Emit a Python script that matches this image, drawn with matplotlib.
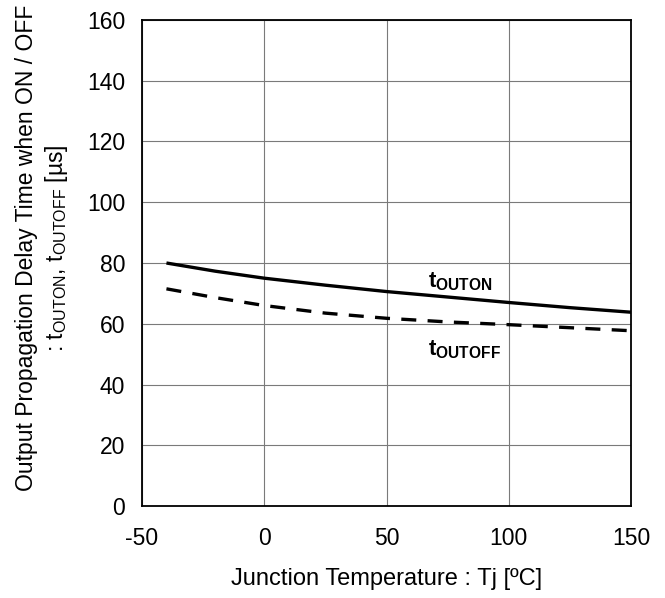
import matplotlib
matplotlib.use("Agg")
import matplotlib.pyplot as plt

plt.rcParams['font.family'] = ['Liberation Sans', 'DejaVu Sans']
plt.rcParams['mathtext.fontset'] = 'custom'
plt.rcParams['mathtext.rm'] = 'Liberation Sans'
plt.rcParams['mathtext.bf'] = 'Liberation Sans:bold'
plt.rcParams['axes.unicode_minus'] = False

# Data
temp = [-40, -20, 0, 25, 50, 75, 100, 125, 150]
t_outon = [80.0, 77.3, 75.0, 72.7, 70.6, 68.8, 67.0, 65.3, 63.8]
t_outoff = [71.5, 68.6, 66.0, 63.5, 61.8, 60.6, 59.7, 58.7, 57.7]
xticks = [-50, 0, 50, 100, 150]
yticks = [0, 20, 40, 60, 80, 100, 120, 140, 160]

fig = plt.figure(figsize=(6.65, 5.98), dpi=100)
ax = fig.add_axes([0.2135, 0.1538, 0.7355, 0.8128])

ax.plot(temp, t_outon, color='black', lw=2.4, solid_capstyle='butt')
ax.plot(temp, t_outoff, color='black', lw=2.4, dashes=(4.5, 3.4))

ax.set_xlim(-50, 150)
ax.set_ylim(0, 160)
ax.set_xticks(xticks)
ax.set_yticks(yticks)
ax.tick_params(length=0, labelsize=16.5)
ax.tick_params(axis='x', pad=15)
ax.tick_params(axis='y', pad=12)
ax.grid(True, color='#7a7a7a', lw=0.8)
for s in ax.spines.values():
    s.set_color('black')
    s.set_linewidth(1.3)

ax.text(67, 73.8, r'$\mathbf{t_{OUTON}}$', fontsize=16, va='center', ha='left')
ax.text(67, 51.3, r'$\mathbf{t_{OUTOFF}}$', fontsize=16, va='center', ha='left')

ax.set_xlabel('Junction Temperature : Tj [ºC]', fontsize=17, labelpad=13)
fig.text(0.064, 0.585,
         'Output Propagation Delay Time when ON / OFF\n'
         r': $\mathregular{t_{OUTON}}$, $\mathregular{t_{OUTOFF}}$ [µs]',
         fontsize=16.5, rotation=90, ha='center', va='center',
         multialignment='center', linespacing=1.25)

fig.savefig('out.png', dpi=100)
